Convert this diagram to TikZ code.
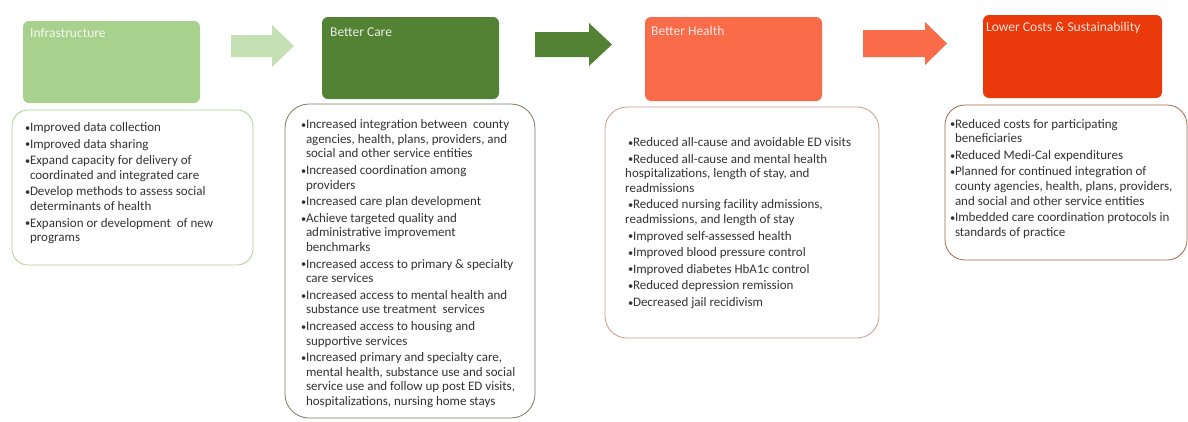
\documentclass[tikz,border=0pt]{standalone}
\usepackage{fontspec}
\usepackage{graphicx}
\setmainfont{Carlito}
\definecolor{hA}{HTML}{A9D18E}
\definecolor{aA}{HTML}{C5E0B4}
\definecolor{hB}{HTML}{548235}
\definecolor{hC}{HTML}{FA6B4A}
\definecolor{hD}{HTML}{EA3A0C}
\definecolor{bA}{HTML}{A9D18E}
\definecolor{bB}{HTML}{6F7F5F}
\definecolor{bC}{HTML}{D09A88}
\definecolor{bD}{HTML}{A0684A}
\definecolor{txt}{HTML}{333333}
\newcommand{\bul}{\makebox[4.8pt][l]{\raisebox{0.3pt}{\scalebox{0.8}{•}}}}
\newcommand{\ind}{\hspace*{4.8pt}}
\newcommand{\lstfont}{\fontsize{13}{14.6}\selectfont}
\tikzset{
  hdr/.style={anchor=north west, inner sep=0pt, outer sep=0pt, rounded corners=6pt, minimum width=177pt, minimum height=82pt},
  desc/.style={anchor=north west, inner sep=0pt, outer sep=0pt, rounded corners=20pt, fill=white, line width=0.8pt},
  lst/.style={anchor=north west, inner sep=0pt, align=left, font=\lstfont, text=txt},
  ttl/.style={anchor=west, inner sep=0pt, font=\fontsize{13.5}{15}\selectfont, text=white, text opacity=0.85},
}
\begin{document}
\begin{tikzpicture}[x=1pt,y=-1pt]
\useasboundingbox (0,0) rectangle (1188,421);
% header boxes
\node[hdr, fill=hA] (h1) at (23,21) {};
\node[hdr, fill=hB] (h2) at (322,17) {};
\node[hdr, fill=hC, minimum height=84pt] (h3) at (645,17) {};
\node[hdr, fill=hD, minimum width=179pt, minimum height=83pt] (h4) at (983,15) {};
% titles
\node[ttl] (t1) at (30,33) {Infrastructure};
\node[ttl] (t2) at (330,32) {Better Care};
\node[ttl] (t3) at (651,31) {Better Health};
\node[ttl] (t4) at (986,28) {Lower Costs \& Sustainability};
% block arrows
\fill[aA] (231,35) -- (272,35) -- (272,25) -- (294,46) -- (272,67) -- (272,57) -- (231,57) -- cycle;
\fill[hB] (535,32) -- (589,32) -- (589,23) -- (612,44.5) -- (589,66) -- (589,57) -- (535,57) -- cycle;
\fill[hC] (863,30) -- (925,30) -- (925,22) -- (947,43.5) -- (925,65) -- (925,57) -- (863,57) -- cycle;
% description boxes
\node[desc, draw=bA, minimum width=241pt, minimum height=155pt, rounded corners=16pt] (d1) at (12,110) {};
\node[desc, draw=bB, minimum width=250pt, minimum height=314pt, rounded corners=24pt] (d2) at (285,104) {};
\node[desc, draw=bC, minimum width=274pt, minimum height=231pt, rounded corners=22pt] (d3) at (605,107) {};
\node[desc, draw=bD, minimum width=242pt, minimum height=155pt, rounded corners=20pt] (d4) at (945,105) {};
% lists
\node[lst] (l1) at (25,121) {\strut\bul Improved data collection\\[2pt]
\bul Improved data sharing\\[2pt]
\bul Expand capacity for delivery of\\
\ind coordinated and integrated care\\[2pt]
\bul Develop methods to assess social\\
\ind determinants of health\\[2pt]
\bul Expansion or development\ \ of new\\
\ind programs};
\node[lst] (l2) at (301,118.3) {\strut\bul Increased integration between\ \ county\\
\ind agencies, health, plans, providers, and\\
\ind social and other service entities\\[2pt]
\bul Increased coordination among\\
\ind providers\\[2pt]
\bul Increased care plan development\\[2pt]
\bul Achieve targeted quality and\\
\ind administrative improvement\\
\ind benchmarks\\[2pt]
\bul Increased access to primary \& specialty\\
\ind care services\\[2pt]
\bul Increased access to mental health and\\
\ind substance use treatment\ \ services\\[2pt]
\bul Increased access to housing and\\
\ind supportive services\\[2pt]
\bul Increased primary and specialty care,\\
\ind mental health, substance use and social\\
\ind service use and follow up post ED visits,\\
\ind hospitalizations, nursing home stays};
\node[lst] (l3) at (625,136) {\strut\hspace*{3pt}\bul Reduced all-cause and avoidable ED visits\\[2pt]
\hspace*{3pt}\bul Reduced all-cause and mental health\\
hospitalizations, length of stay, and\\
readmissions\\[2pt]
\hspace*{3pt}\bul Reduced nursing facility admissions,\\
readmissions, and length of stay\\[2pt]
\hspace*{3pt}\bul Improved self-assessed health\\[2pt]
\hspace*{3pt}\bul Improved blood pressure control\\[2pt]
\hspace*{3pt}\bul Improved diabetes HbA1c control\\[2pt]
\hspace*{3pt}\bul Reduced depression remission\\[2pt]
\hspace*{3pt}\bul Decreased jail recidivism};
\node[lst] (l4) at (950,117.7) {\strut\bul Reduced costs for participating\\
\ind beneficiaries\\[2pt]
\bul Reduced Medi-Cal expenditures\\[2pt]
\bul Planned for continued integration of\\
\ind county agencies, health, plans, providers,\\
\ind and social and other service entities\\[2pt]
\bul Imbedded care coordination protocols in\\
\ind standards of practice};
\end{tikzpicture}
\end{document}
